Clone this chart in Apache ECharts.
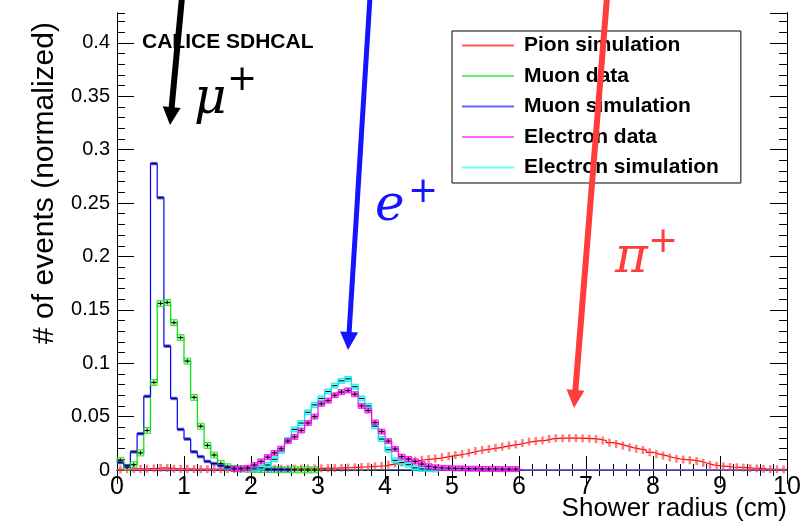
<!DOCTYPE html>
<html>
<head>
<meta charset="utf-8">
<title>Shower radius</title>
<script src="https://cdn.jsdelivr.net/npm/echarts@6/dist/echarts.min.js"></script>
<style>
  html, body { margin: 0; padding: 0; background: #fff; }
  #chart { width: 811px; height: 523px; }
</style>
</head>
<body>
<div id="chart"></div>
<script>
  // histogram binning: 100 bins of 0.1 cm from 0 to 10 cm
  var binWidth = 0.1;
  var xTicks = [0, 1, 2, 3, 4, 5, 6, 7, 8, 9, 10];

  // values, one per bin
  var pionSim = [
    0.0005, 0.0008, 0.001, 0.001, 0.0012, 0.0015, 0.002, 0.0018, 0.0012, 0.001,
    0.001, 0.0009, 0.0008, 0.0008, 0.0008, 0.0008, 0.0009, 0.0009, 0.001, 0.001,
    0.001, 0.001, 0.0011, 0.0011, 0.0012, 0.0012, 0.0013, 0.0013, 0.0014, 0.0015,
    0.0016, 0.0017, 0.0018, 0.002, 0.0022, 0.0025, 0.0028, 0.0031, 0.0035, 0.0039,
    0.005, 0.006, 0.0069, 0.008, 0.0088, 0.0096, 0.0102, 0.0108, 0.0119, 0.013,
    0.014, 0.015, 0.0163, 0.0178, 0.0188, 0.0197, 0.0208, 0.0219, 0.023, 0.024,
    0.0253, 0.0266, 0.0272, 0.0278, 0.0292, 0.0297, 0.0298, 0.0298, 0.0298, 0.0297,
    0.0294, 0.0289, 0.0276, 0.0256, 0.0244, 0.0228, 0.021, 0.0198, 0.0188, 0.0166,
    0.0148, 0.0135, 0.0117, 0.0105, 0.0098, 0.0092, 0.0084, 0.0066, 0.0048, 0.004,
    0.0034, 0.0028, 0.0025, 0.0022, 0.0017, 0.0015, 0.0011, 0.0008, 0.0006, 0.0005
  ];
  var muonData = [
    0.009, 0.0025, 0.005, 0.016, 0.037, 0.082, 0.156, 0.157, 0.138, 0.124,
    0.102, 0.068, 0.041, 0.023, 0.014, 0.006, 0.003, 0.0015, 0.001, 0.0008,
    0.0006, 0.0005, 0.0004, 0.0003, 0.0003, 0.0002, 0.0002, 0.0001, 0.0001, 0.0001,
    0, 0, 0, 0, 0, 0, 0, 0, 0, 0,
    0, 0, 0, 0, 0, 0, 0, 0, 0, 0,
    0, 0, 0, 0, 0, 0, 0, 0, 0, 0,
    0, 0, 0, 0, 0, 0, 0, 0, 0, 0,
    0, 0, 0, 0, 0, 0, 0, 0, 0, 0,
    0, 0, 0, 0, 0, 0, 0, 0, 0, 0,
    0, 0, 0, 0, 0, 0, 0, 0, 0, 0
  ];
  var muonSim = [
    0.007, 0.004, 0.017, 0.034, 0.069, 0.287, 0.255, 0.116, 0.067, 0.038,
    0.029, 0.017, 0.0125, 0.008, 0.006, 0.004, 0.0025, 0.002, 0.0015, 0.0012,
    0.001, 0.0008, 0.0006, 0.0005, 0.0004, 0.0003, 0, 0, 0, 0,
    0, 0, 0, 0, 0, 0, 0, 0, 0, 0,
    0, 0, 0, 0, 0, 0, 0, 0, 0, 0,
    0, 0, 0, 0, 0, 0, 0, 0, 0, 0,
    0, 0, 0, 0, 0, 0, 0, 0, 0, 0,
    0, 0, 0, 0, 0, 0, 0, 0, 0, 0,
    0, 0, 0, 0, 0, 0, 0, 0, 0, 0,
    0, 0, 0, 0, 0, 0, 0, 0, 0, 0
  ];
  var electronData = [
    0, 0, 0, 0, 0, 0, 0, 0, 0, 0,
    0, 0, 0, 0, 0, 0, 0, 0.001, 0.0012, 0.002,
    0.0047, 0.008, 0.012, 0.016, 0.02, 0.027, 0.031, 0.037, 0.044, 0.05,
    0.062, 0.065, 0.07, 0.073, 0.0745, 0.071, 0.06, 0.0557, 0.0445, 0.036,
    0.027, 0.0197, 0.0125, 0.0103, 0.008, 0.0055, 0.0035, 0.0025, 0.002, 0.0018,
    0.0015, 0.0015, 0.0012, 0.0012, 0.001, 0.001, 0.001, 0.0008, 0.0008, 0.0008,
    0, 0, 0, 0, 0, 0, 0, 0, 0, 0,
    0, 0, 0, 0, 0, 0, 0, 0, 0, 0,
    0, 0, 0, 0, 0, 0, 0, 0, 0, 0,
    0, 0, 0, 0, 0, 0, 0, 0, 0, 0
  ];
  var electronSim = [
    0, 0, 0, 0, 0, 0, 0, 0, 0, 0,
    0, 0, 0, 0, 0, 0, 0, 0, 0, 0,
    0.001, 0.002, 0.0047, 0.01, 0.018, 0.028, 0.038, 0.044, 0.054, 0.061,
    0.067, 0.0735, 0.079, 0.0835, 0.0854, 0.078, 0.067, 0.06, 0.041, 0.029,
    0.019, 0.009, 0.007, 0.005, 0.002, 0.001, 0.0008, 0.0005, 0, 0,
    0, 0, 0, 0, 0, 0, 0, 0, 0, 0,
    0, 0, 0, 0, 0, 0, 0, 0, 0, 0,
    0, 0, 0, 0, 0, 0, 0, 0, 0, 0,
    0, 0, 0, 0, 0, 0, 0, 0, 0, 0,
    0, 0, 0, 0, 0, 0, 0, 0, 0, 0
  ];

  var FONT = 'Liberation Sans, Arial, sans-serif';
  var chart = echarts.init(document.getElementById('chart'));

  // step outline: one point per left bin edge, last value repeated at the right edge
  function stepData(vals) {
    var out = vals.map(function (v, i) { return [+(i * binWidth).toFixed(1), v]; });
    out.push([+(vals.length * binWidth).toFixed(1), vals[vals.length - 1]]);
    return out;
  }

  function histLine(name, vals, color, z) {
    return {
      name: name,
      type: 'line',
      step: 'end',
      showSymbol: false,
      silent: true,
      data: stepData(vals),
      lineStyle: { color: color, width: 1.2 },
      itemStyle: { color: color },
      z: z
    };
  }

  // error boxes / bars drawn on every bin
  function errSeries(name, vals, fill, stroke, boxH, isData, isPion) {
    return {
      name: name,
      type: 'custom',
      silent: true,
      z: 9,
      encode: { x: [0, 1], y: 2 },
      data: vals.map(function (v, i) { return [i * binWidth, (i + 1) * binWidth, v]; }),
      renderItem: function (params, api) {
        var v = api.value(2);
        if (v <= 0) return null;
        var p0 = api.coord([api.value(0), v]);
        var p1 = api.coord([api.value(1), v]);
        var cx = (p0[0] + p1[0]) / 2;
        var y = p0[1];
        if (isPion) {
          return {
            type: 'rect',
            shape: { x: cx - 1.25, y: y - 4, width: 2.5, height: 8 },
            style: { fill: fill }
          };
        }
        var kids = [{
          type: 'rect',
          shape: { x: p0[0], y: y - boxH / 2, width: p1[0] - p0[0], height: boxH },
          style: { fill: fill, stroke: stroke, lineWidth: 0.8 }
        }, {
          type: 'line',
          shape: { x1: cx - 2.5, y1: y, x2: cx + 2.5, y2: y },
          style: { stroke: '#000', lineWidth: 1 }
        }];
        if (isData) {
          kids.push({
            type: 'line',
            shape: { x1: cx, y1: y - 2, x2: cx, y2: y + 2 },
            style: { stroke: '#000', lineWidth: 1 }
          });
        }
        return { type: 'group', children: kids };
      }
    };
  }

  function arrow(x1, y1, x2, y2, color, width, headLen, headW) {
    var dx = x2 - x1, dy = y2 - y1;
    var len = Math.sqrt(dx * dx + dy * dy);
    var ux = dx / len, uy = dy / len;
    var bx = x2 - ux * headLen, by = y2 - uy * headLen;
    var px = -uy * headW / 2, py = ux * headW / 2;
    return [{
      type: 'line', z: 100,
      shape: { x1: x1, y1: y1, x2: bx + ux * 2, y2: by + uy * 2 },
      style: { stroke: color, lineWidth: width }
    }, {
      type: 'polygon', z: 100,
      shape: { points: [[x2, y2], [bx + px, by + py], [bx - px, by - py]] },
      style: { fill: color }
    }];
  }

  function mathLabel(x, y, glyph, color, plusDy) {
    return [{
      type: 'text', z: 101, x: x, y: y,
      style: { text: glyph, fill: color, font: 'italic 50px "DejaVu Serif", serif', textAlign: 'left', textVerticalAlign: 'bottom' }
    }, {
      type: 'text', z: 101, x: x + 33, y: y - plusDy,
      style: { text: '+', fill: color, font: '36px "DejaVu Sans", sans-serif', textAlign: 'left', textVerticalAlign: 'bottom' }
    }];
  }

  var frameLine = { show: true, lineStyle: { color: '#000', width: 1 } };

  var graphics = []
    .concat(arrow(182, -3, 170, 125, '#000000', 6, 18, 18))
    .concat(arrow(370, -3, 348, 350, '#1414ff', 5, 18, 18))
    .concat(arrow(607, -3, 574, 408, '#ff3d3d', 6, 18, 18))
    .concat(mathLabel(194, 125, 'μ', '#000000', 26))
    .concat(mathLabel(375, 232, 'e', '#1414ff', 21))
    .concat(mathLabel(615, 284, 'π', '#ff3d3d', 23))
    .concat([{
      type: 'text', z: 50, x: 142, y: 42,
      style: { text: 'CALICE SDHCAL', fill: '#000', font: 'bold 21px ' + FONT, textVerticalAlign: 'middle' }
    }, {
      type: 'text', z: 50, x: 45, y: 183, rotation: Math.PI / 2,
      style: { text: '# of events (normalized)', fill: '#000', font: '30px ' + FONT, textAlign: 'center', textVerticalAlign: 'middle' }
    }, {
      type: 'text', z: 50, x: 787, y: 509,
      style: { text: 'Shower radius (cm)', fill: '#000', font: '26px ' + FONT, textAlign: 'right', textVerticalAlign: 'middle' }
    }]);

  chart.setOption({
    animation: false,
    backgroundColor: '#fff',
    grid: { left: 117, right: 24, top: 13, bottom: 53, containLabel: false },
    legend: {
      left: 452,
      top: 31,
      z: 20,
      orient: 'vertical',
      icon: 'rect',
      itemWidth: 52,
      itemHeight: 2,
      itemGap: 9.5,
      padding: [4, 22, 5, 10],
      borderColor: '#000',
      borderWidth: 1,
      backgroundColor: '#fff',
      selectedMode: false,
      textStyle: { fontSize: 21, fontWeight: 'bold', fontFamily: FONT, color: '#000', lineHeight: 21, padding: [0, 0, 0, 5] },
      data: [
        { name: 'Pion simulation', itemStyle: { color: '#ff5a5a' } },
        { name: 'Muon data', itemStyle: { color: '#66ee66' } },
        { name: 'Muon simulation', itemStyle: { color: '#6464ff' } },
        { name: 'Electron data', itemStyle: { color: '#ff66ff' } },
        { name: 'Electron simulation', itemStyle: { color: '#66ffff' } }
      ]
    },
    xAxis: [{
      type: 'value', position: 'bottom', min: 0, max: 10, interval: 1,
      axisLine: frameLine,
      axisTick: { inside: true, length: 14, lineStyle: { color: '#000' } },
      minorTick: { show: true, splitNumber: 5, length: 6, lineStyle: { color: '#000' } },
      splitLine: { show: false },
      axisLabel: { fontSize: 25, fontFamily: FONT, color: '#000', margin: 5,
        formatter: function (v) { return xTicks.indexOf(v) >= 0 ? String(v) : ''; } }
    }, {
      type: 'value', position: 'top', min: 0, max: 10, interval: 1,
      axisLine: frameLine,
      axisTick: { inside: true, length: 14, lineStyle: { color: '#000' } },
      minorTick: { show: true, splitNumber: 5, length: 6, lineStyle: { color: '#000' } },
      splitLine: { show: false },
      axisLabel: { show: false }
    }],
    yAxis: [{
      type: 'value', position: 'left', min: 0, max: 0.428, interval: 0.05,
      axisLine: frameLine,
      axisTick: { inside: true, length: 17, lineStyle: { color: '#000' } },
      splitLine: { show: false },
      axisLabel: { fontSize: 20, fontFamily: FONT, color: '#000', margin: 7, showMaxLabel: false,
        formatter: function (v) { return String(+v.toFixed(2)); } }
    }, {
      type: 'value', position: 'left', min: 0, max: 0.428, interval: 0.01,
      axisLine: frameLine,
      axisTick: { inside: true, length: 8, lineStyle: { color: '#000' } },
      splitLine: { show: false },
      axisLabel: { show: false }
    }, {
      type: 'value', position: 'right', min: 0, max: 0.428, interval: 0.05,
      axisLine: frameLine,
      axisTick: { inside: true, length: 17, lineStyle: { color: '#000' } },
      splitLine: { show: false },
      axisLabel: { show: false }
    }, {
      type: 'value', position: 'right', min: 0, max: 0.428, interval: 0.01,
      axisLine: frameLine,
      axisTick: { inside: true, length: 8, lineStyle: { color: '#000' } },
      splitLine: { show: false },
      axisLabel: { show: false }
    }],
    graphic: graphics,
    series: [
      histLine('Pion simulation', pionSim, '#ff0000', 3),
      errSeries('pionErr', pionSim, 'rgba(255,70,70,0.7)', null, 0, false, true),
      histLine('Muon data', muonData, '#00e000', 4),
      errSeries('muonDataErr', muonData, 'rgba(90,255,90,0.45)', '#22cc22', 6, true, false),
      histLine('Muon simulation', muonSim, '#0000f0', 5),
      errSeries('muonSimErr', muonSim, 'rgba(40,40,255,0.75)', null, 3.5, false, false),
      histLine('Electron simulation', electronSim, '#00e8e8', 6),
      errSeries('electronSimErr', electronSim, 'rgba(60,255,255,0.75)', '#00dddd', 5, false, false),
      histLine('Electron data', electronData, '#ff00ff', 7),
      errSeries('electronDataErr', electronData, 'rgba(255,60,255,0.7)', '#ee00ee', 5, true, false)
    ]
  });
</script>
</body>
</html>
